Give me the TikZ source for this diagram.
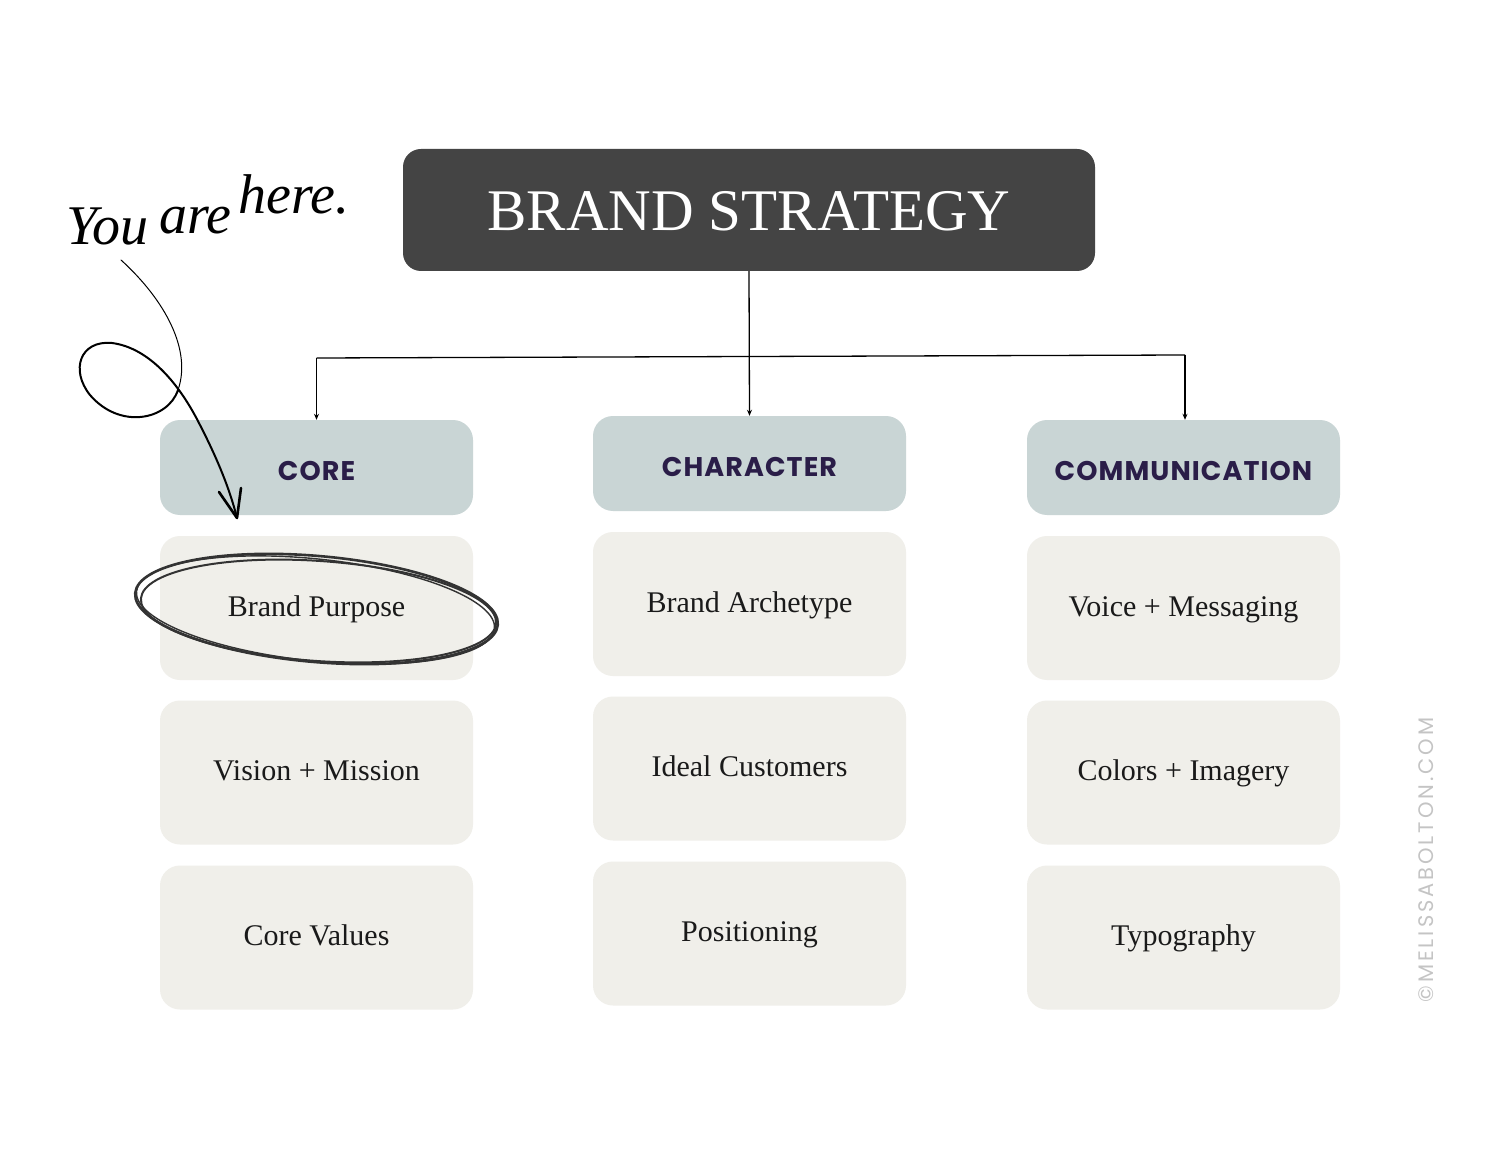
\documentclass[tikz,border=0pt]{standalone}
\usepackage{fontspec}
\setmainfont{Liberation Serif}
\newfontfamily\hdrfont{Poppins}[LetterSpace=4]
\newfontfamily\wmfont{Poppins}[LetterSpace=14]
\usetikzlibrary{arrows.meta}
\definecolor{titlebg}{HTML}{444444}
\definecolor{hdrbg}{HTML}{C9D5D5}
\definecolor{hdrtext}{HTML}{2A1D48}
\definecolor{itembg}{HTML}{F0EFEA}
\definecolor{itemtext}{HTML}{1A1A1A}
\definecolor{wmgray}{HTML}{C4C4C4}
\definecolor{ink}{HTML}{333333}
\tikzset{
  titlebox/.style={fill=titlebg, rounded corners=18pt, minimum width=692pt, minimum height=122pt, inner sep=0pt,
    text=white, font=\fontsize{59}{59}\selectfont, text height=42pt, text depth=0pt},
  hdrbox/.style={fill=hdrbg, rounded corners=20pt, minimum width=313pt, minimum height=95pt, inner sep=0pt,
    text=hdrtext, font=\hdrfont\bfseries\fontsize{27}{27}\selectfont, text height=25pt, text depth=0pt},
  itembox/.style={fill=itembg, rounded corners=20pt, minimum width=313pt, minimum height=144pt, inner sep=0pt,
    text=itemtext, font=\fontsize{30}{30}\selectfont, text height=16pt, text depth=0pt},
  conn/.style={draw=black, line width=1.3pt},
  connarrow/.style={conn, -{Stealth[length=6pt,width=5pt]}},
  scribble/.style={draw=ink, line width=2.6pt, line cap=round},
  handline/.style={draw=black, line cap=round, line join=round},
  handword/.style={font=\itshape\fontsize{56}{56}\selectfont, text=black, inner sep=0pt, anchor=base west}
}
\begin{document}
\begin{tikzpicture}[x=1pt,y=-1pt]
\useasboundingbox (0,0) rectangle (1500,1158);
\fill[white] (0,0) rectangle (1500,1158);

% title
\node[titlebox] (title) at (749,210) {BRAND STRATEGY};

% headers
\node[hdrbox] (core) at (316.5,467.5) {CORE};
\node[hdrbox] (char) at (749.5,463.5) {CHARACTER};
\node[hdrbox] (comm) at (1183.5,467.5) {COMMUNICATION};

% items
\node[itembox] (bp) at (316.5,608) {Brand Purpose};
\node[itembox] (vm) at (316.5,772.5) {Vision + Mission};
\node[itembox] (cv) at (316.5,937.5) {Core Values};
\node[itembox] (ba) at (749.5,604) {Brand Archetype};
\node[itembox] (ic) at (749.5,768.5) {Ideal Customers};
\node[itembox] (po) at (749.5,933.5) {Positioning};
\node[itembox] (vmsg) at (1183.5,608) {Voice + Messaging};
\node[itembox] (ci) at (1183.5,772.5) {Colors + Imagery};
\node[itembox] (ty) at (1183.5,937.5) {Typography};

% connectors
\coordinate (busL) at (316.5,358);
\coordinate (busR) at (1185,355);
\draw[conn] (busL) -- (busR);
\draw[connarrow] (title.south) -- (char.north);
\draw[connarrow] (busL) -- (core.north);
\draw[connarrow] (busR) -- (busR |- comm.north);

% scribbled ellipse round Brand Purpose
\draw[scribble] (bp.center) ++(0,1) ellipse[x radius=182pt, y radius=53pt, rotate=-5];
\draw[scribble, line width=2pt] (bp.center) ++(2,3) ellipse[x radius=178pt, y radius=50pt, rotate=-4];
\draw[scribble, line width=1.4pt] (bp.center) ++(-1,2) ellipse[x radius=180pt, y radius=51pt, rotate=-6];

% handwritten note and arrow
\node[handword] (you) at (66,245) {You};
\node[handword] (are) at (159,234) {are};
\node[handword] (here) at (238,214) {here.};
\coordinate (h0) at (121,260);
\coordinate (h1) at (178,390);
\coordinate (h2) at (90,395);
\coordinate (h3) at (112,343);
\coordinate (h4) at (200,425);
\coordinate (tip) at (237,518);
\draw[handline, line width=1pt] (h0) .. controls (165,300) and (192,350) .. (h1);
\draw[handline, line width=2pt] (h1) .. controls (168,420) and (120,430) .. (h2)
  .. controls (70,370) and (80,340) .. (h3)
  .. controls (150,348) and (180,385) .. (h4)
  .. controls (218,460) and (230,490) .. (tip);
\draw[handline, line width=2.6pt] (219,492) -- (tip) -- (241,488);

% watermark
\node[rotate=90, text=wmgray, font=\wmfont\fontsize{21}{21}\selectfont, inner sep=0pt] (wm) at (1426,860) {©MELISSABOLTON.COM};
\end{tikzpicture}
\end{document}
